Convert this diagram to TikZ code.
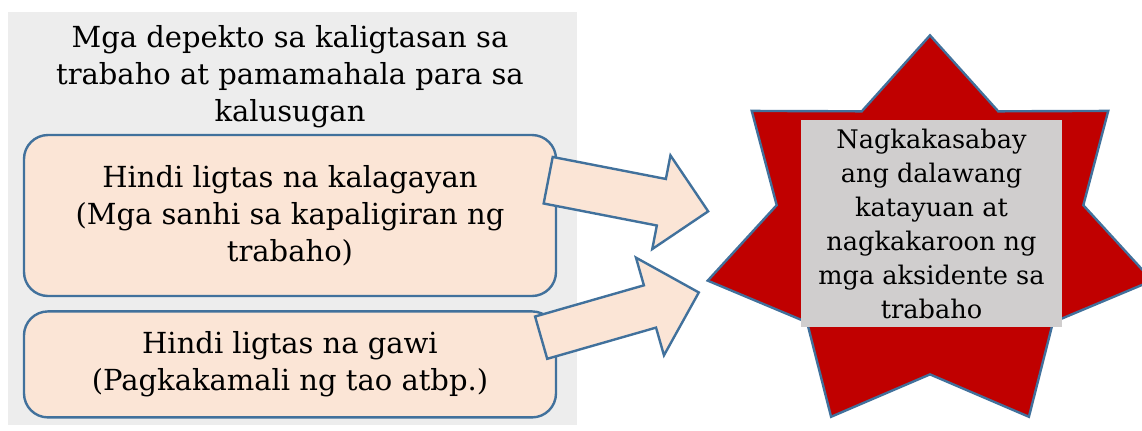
\documentclass[tikz,border=0pt]{standalone}
\usepackage{fontspec}
\setmainfont{DejaVu Serif}
\usepackage{tikz}
\usetikzlibrary{positioning}
\usetikzlibrary{shapes.geometric, shapes.arrows, positioning}
\definecolor{panelgray}{HTML}{EDEDED}
\definecolor{peach}{HTML}{FBE5D6}
\definecolor{edgeblue}{HTML}{41719C}
\definecolor{starred}{HTML}{C00000}
\definecolor{boxgray}{HTML}{D0CECE}
\tikzstyle{causebox} = [draw=edgeblue, line width=1.2pt, fill=peach, rounded corners=12pt, minimum width=266pt, align=center, font=\fontsize{14.5}{18.5}\selectfont]
\tikzstyle{blockarrow} = [single arrow, draw=edgeblue, line width=1.2pt, fill=peach, inner xsep=0pt, minimum width=0pt, single arrow head indent=0pt, anchor=tail]

\begin{document}
\begin{tikzpicture}[x=0.5pt, y=-0.5pt]
    \useasboundingbox (0,0) rectangle (1142,430);
    % Nodes
    \node[fill=panelgray, minimum width=284.5pt, minimum height=206.5pt, inner sep=0pt] (panel) at (292.5,218.5) {};
    \node[align=center, font=\fontsize{14.5}{18.5}\selectfont] (title) at (290,77) {Mga depekto sa kaligtasan sa\\trabaho at pamamahala para sa\\kalusugan};
    \node[causebox, minimum height=80.5pt] (cond) at (290,215.5) {Hindi ligtas na kalagayan\\(Mga sanhi sa kapaligiran ng\\trabaho)};
    \node[causebox, minimum height=53pt, below=6.5pt of cond] (act) {Hindi ligtas na gawi\\(Pagkakamali ng tao atbp.)};
    \node[draw=edgeblue, line width=1.2pt, fill=starred, star, star points=7, star point ratio=1.45, minimum size=228pt, inner sep=0pt, yscale=0.88, transform shape] (burst) at (930,236) {};
    \node[fill=boxgray, minimum width=130.5pt, minimum height=103.5pt, inner sep=0pt, align=center, font=\fontsize{12.8}{17}\selectfont] (result) at (931.5,223.5) {Nagkakasabay\\ang dalawang\\katayuan at\\nagkakaroon ng\\mga aksidente sa\\trabaho};

    % Arrows
    \node[blockarrow, inner ysep=11.25pt, single arrow head extend=12pt, minimum height=81.5pt, rotate=-11] (arrA) at (547,180) {};
    \node[blockarrow, inner ysep=10.4pt, single arrow head extend=14.4pt, minimum height=82pt, rotate=16] (arrB) at (540,338) {};
\end{tikzpicture}
\end{document}
